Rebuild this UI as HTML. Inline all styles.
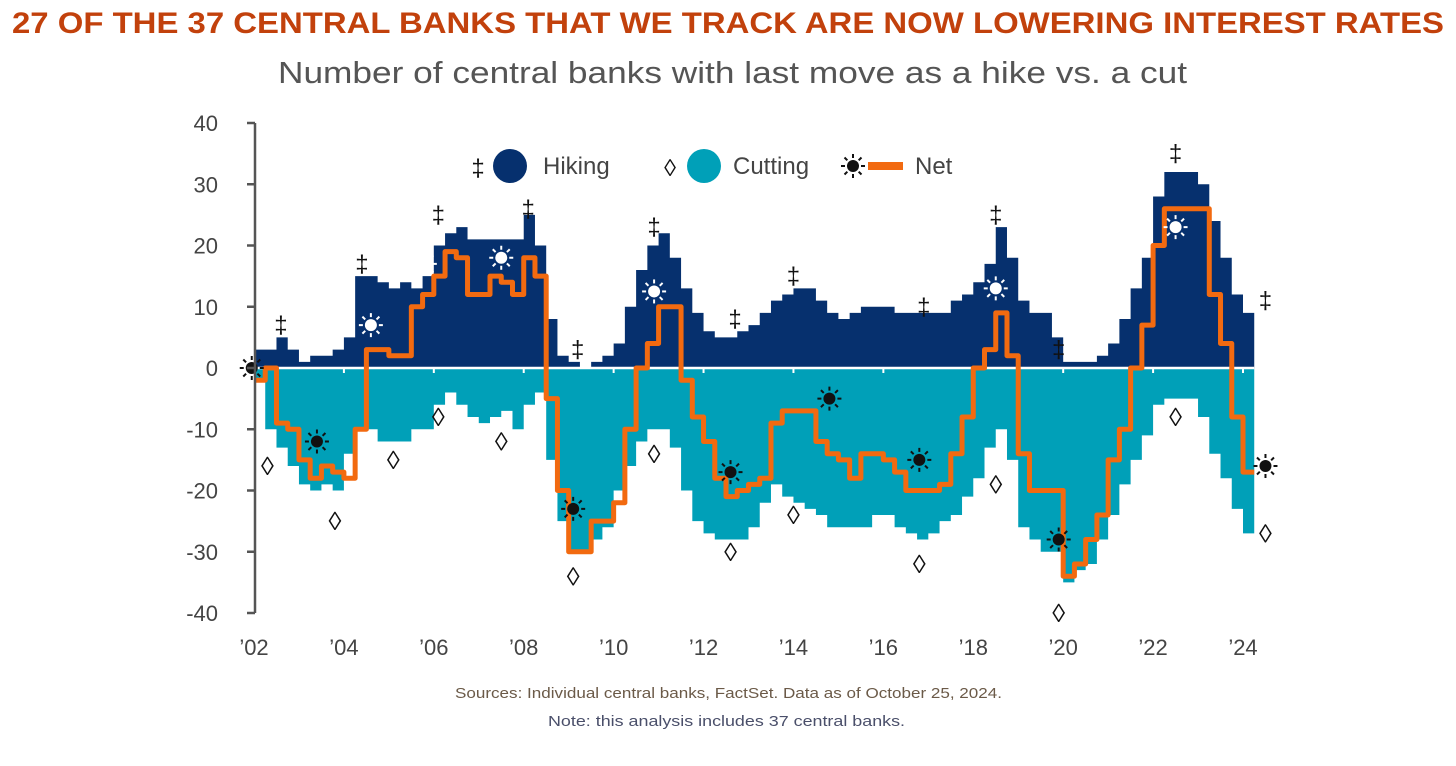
<!DOCTYPE html>
<html><head><meta charset="utf-8">
<style>
html,body{margin:0;padding:0;background:#fff;width:1456px;height:766px;overflow:hidden}
svg{display:block}
text{font-family:"Liberation Sans",sans-serif}
</style></head>
<body>
<svg id="chart" width="1456" height="766" viewBox="0 0 1456 766">
<text x="12" y="33" textLength="1432" lengthAdjust="spacingAndGlyphs" font-size="30" font-weight="bold" fill="#C2410C">27 OF THE 37 CENTRAL BANKS THAT WE TRACK ARE NOW LOWERING INTEREST RATES</text>
<text x="278" y="83" textLength="909" lengthAdjust="spacingAndGlyphs" font-size="31" fill="#555">Number of central banks with last move as a hike vs. a cut</text>
<g id="plot"></g>
<g id="axes"></g>
<g>
<text x="478" y="176" text-anchor="middle" font-size="24" fill="#111">‡</text>
<circle cx="510" cy="166" r="17" fill="#06306E"/>
<text x="543" y="174" font-size="24" fill="#444">Hiking</text>
<text x="670" y="176" text-anchor="middle" font-size="24" fill="#111">◊</text>
<circle cx="704" cy="166" r="17" fill="#00A0B8"/>
<text x="733" y="174" font-size="24" fill="#444">Cutting</text>
<g id="legsun"></g>
<rect x="868" y="162" width="35" height="8" fill="#F26A10"/>
<text x="915" y="174" font-size="24" fill="#444">Net</text>
</g>
<text x="455" y="698" textLength="547" lengthAdjust="spacingAndGlyphs" font-size="15" fill="#6b5a48">Sources: Individual central banks, FactSet. Data as of October 25, 2024.</text>
<text x="548" y="726" textLength="357" lengthAdjust="spacingAndGlyphs" font-size="15" fill="#4a4f6a">Note: this analysis includes 37 central banks.</text>
</svg>
<script>
// quarterly data starting 2002 Q1
const startYear = 2002;
const hiking = [3,3,5,3, 1,2,2,3, 5,15,15,14, 13,14,13,15, 20,22,23,21, 21,21,21,21, 25,20,8,2, 1,0,1,2, 4,10,16,20, 22,18,13,9, 6,5,5,6, 7,9,11,12, 13,13,11,9, 8,9,10,10, 10,9,9,9, 9,9,11,12, 14,17,23,18, 11,9,9,5, 1,1,1,2, 4,8,13,18, 28,32,32,32, 30,24,18,12, 9];
const cutting = [2,10,13,16, 19,20,19,20, 14,10,10,12, 12,12,10,10, 6,4,6,8, 9,8,7,10, 6,4,15,25, 30,30,28,26, 20,16,12,10, 10,13,20,25, 27,28,28,28, 26,22,19,21, 22,23,24,26, 26,26,26,24, 24,26,27,28, 27,25,24,21, 18,13,10,15, 26,28,30,30, 35,33,32,28, 24,19,15,11, 6,5,5,5, 8,14,18,23, 27];
const net = [-2,0,-9,-10, -15,-18,-16,-17, -18,-10,3,3, 2,2,10,12, 15,19,18,12, 12,15,14,12, 18,15,-5,-20, -30,-30,-25,-25, -22,-10,0,4, 10,10,-2,-8, -12,-18,-21,-20, -19,-18,-9,-7, -7,-7,-12,-14, -15,-18,-14,-14, -15,-17,-20,-20, -20,-19,-14,-8, 0,3,9,2, -14,-20,-20,-20, -34,-32,-28,-24, -15,-10,0,7, 20,26,26,26, 26,12,4,-8, -17];
const yTicks = [40,30,20,10,0,-10,-20,-30,-40];
const xTickYears = [2002,2004,2006,2008,2010,2012,2014,2016,2018,2020,2022,2024];
const xTickLabels = ["’02","’04","’06","’08","’10","’12","’14","’16","’18","’20","’22","’24"];
const hikeMarks = [[2002.6,7],[2004.4,17],[2006.1,25],[2008.1,26],[2009.2,3],[2010.9,23],[2012.7,8],[2014.0,15],[2016.9,10],[2018.5,25],[2019.9,3],[2022.5,35],[2024.5,11]];
const cutMarks = [[2002.3,-16],[2003.8,-25],[2005.1,-15],[2006.1,-8],[2007.5,-12],[2009.1,-34],[2010.9,-14],[2012.6,-30],[2014.0,-24],[2016.8,-32],[2018.5,-19],[2019.9,-40],[2022.5,-8],[2024.5,-27]];
const netMarksDark = [[2001.95,0],[2003.4,-12],[2009.1,-23],[2012.6,-17],[2014.8,-5],[2016.8,-15],[2019.9,-28],[2024.5,-16]];
const netMarksLight = [[2004.6,7],[2005.8,17],[2007.5,18],[2010.9,12.5],[2018.5,13],[2022.5,23]];

const NS="http://www.w3.org/2000/svg";
const X0=254, X1=1243, Y0=368, PX_PER_UNIT=6.125;
function xs(yr){return X0+(yr-2002)*(X1-X0)/22;}
function ys(v){return Y0-v*PX_PER_UNIT;}
function mk(tag,attrs,parent){const e=document.createElementNS(NS,tag);for(const k in attrs)e.setAttribute(k,attrs[k]);parent.appendChild(e);return e;}
const plot=document.getElementById('plot'), axes=document.getElementById('axes');
function yearAt(i){return startYear+i*0.25;}
function stepArea(vals,sign){
  let d="M"+xs(yearAt(0))+","+Y0;
  vals.forEach((v,i)=>{d+=" L"+xs(yearAt(i))+","+ys(sign*v)+" L"+xs(yearAt(i+1))+","+ys(sign*v);});
  d+=" L"+xs(yearAt(vals.length))+","+Y0+" Z";return d;
}
const ha=mk('path',{d:stepArea(hiking,1),fill:'#06306E'},plot);


const ca=mk('path',{d:stepArea(cutting,-1),fill:'#00A0B8'},plot);


const zl=mk('line',{x1:xs(2002),x2:xs(yearAt(hiking.length)),y1:Y0,y2:Y0,stroke:'#fff','stroke-width':2.5},plot);


xTickYears.forEach(yr=>{if(yr>2002){const t=mk('line',{x1:xs(yr),x2:xs(yr),y1:Y0,y2:Y0+5,stroke:'#fff','stroke-width':2},plot);

}});
let nd="";
net.forEach((v,i)=>{nd+=(i?" L":"M")+xs(yearAt(i))+","+ys(v)+" L"+xs(yearAt(i+1))+","+ys(v);});
const nl=mk('path',{d:nd,fill:'none',stroke:'#F26A10','stroke-width':5,'stroke-linejoin':'round'},plot);



function sun(cx,cy,color,parent){
  const g=mk('g',{},parent);
  mk('circle',{cx:cx,cy:cy,r:6,fill:color},g);
  for(let a=0;a<8;a++){const an=a*Math.PI/4;mk('line',{x1:cx+8*Math.cos(an),y1:cy+8*Math.sin(an),x2:cx+12*Math.cos(an),y2:cy+12*Math.sin(an),stroke:color,'stroke-width':2},g);}
  return g;
}
hikeMarks.forEach(([yr,v])=>{const t=mk('text',{x:xs(yr),y:ys(v)+8,'text-anchor':'middle','font-size':24,fill:'#111'},plot);t.textContent='‡';

});
cutMarks.forEach(([yr,v])=>{const t=mk('text',{x:xs(yr),y:ys(v)+9,'text-anchor':'middle','font-size':26,fill:'#111'},plot);t.textContent='◊';

});
netMarksDark.forEach(([yr,v])=>{const g=sun(xs(yr),ys(v),'#111',plot);

});
netMarksLight.forEach(([yr,v])=>{const g=sun(xs(yr),ys(v),'#fff',plot);

});
sun(853,166,'#111',document.getElementById('legsun'));

const ax=mk('line',{x1:255,x2:255,y1:ys(40),y2:ys(-40),stroke:'#555','stroke-width':2.5},axes);


yTicks.forEach(v=>{
  const l=mk('line',{x1:247,x2:255,y1:ys(v),y2:ys(v),stroke:'#555','stroke-width':2.5},axes);
  
  
  const t=mk('text',{x:218,y:ys(v)+8,'text-anchor':'end','font-size':22,fill:'#444'},axes);t.textContent=v;
  
  
});
xTickYears.forEach((yr,i)=>{
  const t=mk('text',{x:xs(yr),y:655,'text-anchor':'middle','font-size':22,fill:'#444'},axes);t.textContent=xTickLabels[i];
  
  
});
</script>
</body></html>
